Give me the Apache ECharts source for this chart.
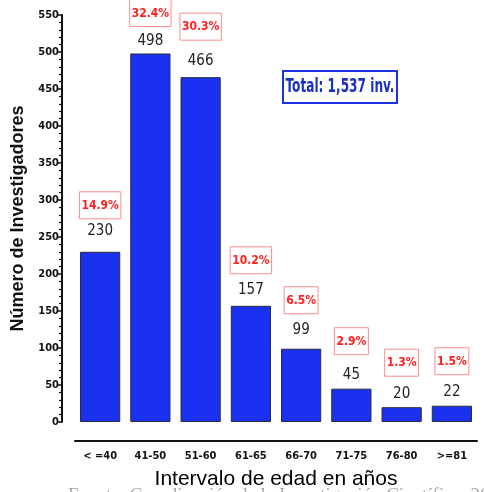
<!DOCTYPE html>
<html><head><meta charset="utf-8">
<script src="https://cdn.jsdelivr.net/npm/echarts@6/dist/echarts.min.js"></script>
<style>html,body{margin:0;padding:0;background:#fff}#c{width:484px;height:492px}</style>
</head><body><div id="c"></div>
<script>
const categories = ['< =40','41-50','51-60','61-65','66-70','71-75','76-80','>=81'];
const investigadores = [230, 498, 466, 157, 99, 45, 20, 22];
const porcentajes = ['14.9%','32.4%','30.3%','10.2%','6.5%','2.9%','1.3%','1.5%'];
const yTicks = {min: 0, max: 550, interval: 50};
const totalText = 'Total: 1,537 inv.';

const valueDist = [13, 5, 9, 8, 11, 6, 6, 6];
const pctDist = [33, 27, 37, 32, 35, 34, 31, 31];
const NARROW = '"Liberation Sans Narrow", "Arial Narrow", "DejaVu Sans Condensed", "Liberation Sans", sans-serif';

const chart = echarts.init(document.getElementById('c'));
chart.setOption({
  animation: false,
  grid: {left: 75, right: 7, top: 15, bottom: 70, outerBoundsMode: 'none', containLabel: false},
  xAxis: {
    type: 'category', data: categories, offset: 19,
    axisLine: {onZero: false, lineStyle: {color: '#111', width: 2}},
    axisTick: {alignWithLabel: true, length: 5, lineStyle: {color: '#111', width: 1.5}},
    axisLabel: {color: '#111', fontFamily: NARROW, fontWeight: 'bold', fontSize: 11, margin: 10},
    name: 'Intervalo de edad en años', nameLocation: 'middle', nameGap: 28,
    nameTextStyle: {color: '#000', fontSize: 21, fontFamily: 'Liberation Sans, Arial, sans-serif'}
  },
  yAxis: {
    type: 'value', min: yTicks.min, max: yTicks.max, interval: yTicks.interval, offset: 13,
    axisLine: {show: true, lineStyle: {color: '#111', width: 2}},
    axisTick: {show: true, length: 5, lineStyle: {color: '#111', width: 1.5}},
    minorTick: {show: true, splitNumber: 5, length: 3, lineStyle: {color: '#111', width: 1.2}},
    splitLine: {show: false},
    axisLabel: {color: '#111', fontFamily: NARROW, fontWeight: 'bold', fontSize: 11, margin: 3},
    name: 'Número de Investigadores', nameLocation: 'middle', nameGap: 29, nameRotate: 90,
    nameTextStyle: {color: '#111', fontSize: 18, fontWeight: 'bold', fontFamily: 'Liberation Sans, Arial, sans-serif'}
  },
  series: [
    {
      type: 'bar', barCategoryGap: '20%',
      data: investigadores.map((v, i) => ({value: v, label: {distance: valueDist[i]}})),
      itemStyle: {color: '#1a32f0', borderColor: '#2a2a3a', borderWidth: 1},
      label: {show: true, position: 'top', color: '#222', fontSize: 15, fontFamily: NARROW}
    },
    {
      type: 'bar', barGap: '-100%', barCategoryGap: '20%', silent: true,
      data: investigadores.map((v, i) => ({value: v, label: {distance: pctDist[i]}})),
      itemStyle: {color: 'rgba(0,0,0,0)'},
      label: {
        show: true, position: 'top',
        formatter: p => porcentajes[p.dataIndex],
        color: '#ff2020', fontWeight: 'bold', fontSize: 12, fontFamily: NARROW,
        borderColor: '#ff8c8c', borderWidth: 1, padding: [8, 2, 7, 2]
      }
    }
  ],
  graphic: [
    {
      type: 'rect', x: 283, y: 71, z: 10,
      shape: {x: 0, y: 0, width: 114, height: 32},
      style: {fill: '#fff', stroke: '#1a32e0', lineWidth: 2}
    },
    {
      type: 'group', x: 340, y: 87, scaleX: 0.71, z: 11,
      children: [{
        type: 'text', x: 0, y: 0, z: 11,
        style: {text: totalText, fill: '#1a2fc8', font: 'bold 19px ' + NARROW, align: 'center', verticalAlign: 'middle'}
      }]
    },
    {
      type: 'text', left: 68, top: 487,
      style: {text: 'Fuente: Coordinación de la Investigación Científica, 2013', fill: '#a8a8a8', font: '19px "Liberation Serif", serif'}
    }
  ]
});
</script></body></html>
